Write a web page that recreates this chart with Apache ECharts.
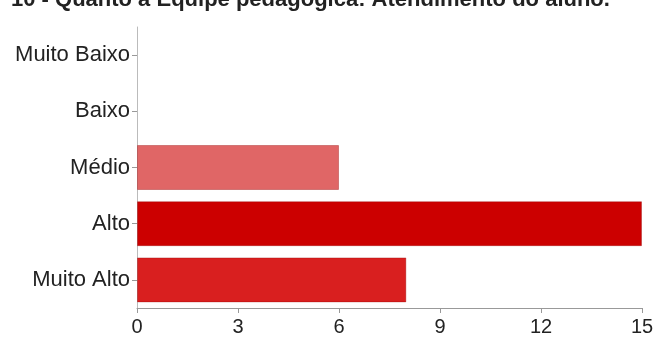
<!DOCTYPE html>
<html><head><meta charset="utf-8">
<script src="https://cdn.jsdelivr.net/npm/echarts@6/dist/echarts.min.js"></script>
<style>html,body{margin:0;padding:0;background:#fff}#c{width:658px;height:338px}</style>
</head><body><div id="c"></div>
<script>
const titleText = "10 - Quanto à Equipe pedagógica: Atendimento do aluno.";
const categories = ["Muito Baixo", "Baixo", "Médio", "Alto", "Muito Alto"];
const values = [0, 0, 6, 15, 8];
const barColors = ["#e06666", "#e06666", "#e06666", "#cc0000", "#d91f1f"];
const xTicks = [0, 3, 6, 9, 12, 15];

const chart = echarts.init(document.getElementById('c'));
chart.setOption({
  animation: false,
  title: {
    text: titleText, left: 11, top: -11, padding: 0,
    textStyle: {fontFamily: 'Liberation Sans', fontWeight: 'bold', fontSize: 22, color: '#222'}
  },
  grid: {left: 137, right: 16, top: 27, bottom: 30, containLabel: false},
  xAxis: {
    type: 'value', min: xTicks[0], max: xTicks[xTicks.length-1], interval: 3,
    axisLine: {show: true, lineStyle: {color: '#999'}},
    axisTick: {show: true, length: 5, lineStyle: {color: '#999'}},
    splitLine: {show: false},
    axisLabel: {fontFamily: 'Liberation Sans', fontSize: 20, color: '#222', margin: 9}
  },
  yAxis: {
    type: 'category', data: categories, inverse: true,
    axisLine: {show: true, lineStyle: {color: '#bbb'}},
    axisTick: {show: true, length: 5, alignWithLabel: true, lineStyle: {color: '#999'}},
    axisLabel: {fontFamily: 'Liberation Sans', fontSize: 22, color: '#222', margin: 7}
  },
  series: [{
    type: 'bar', barWidth: '80%',
    data: values.map((v, i) => ({value: v, itemStyle: {color: barColors[i], borderColor: v > 0 ? 'rgba(150,0,0,0.35)' : 'transparent', borderWidth: v > 0 ? 1 : 0}}))
  }]
});
</script></body></html>
